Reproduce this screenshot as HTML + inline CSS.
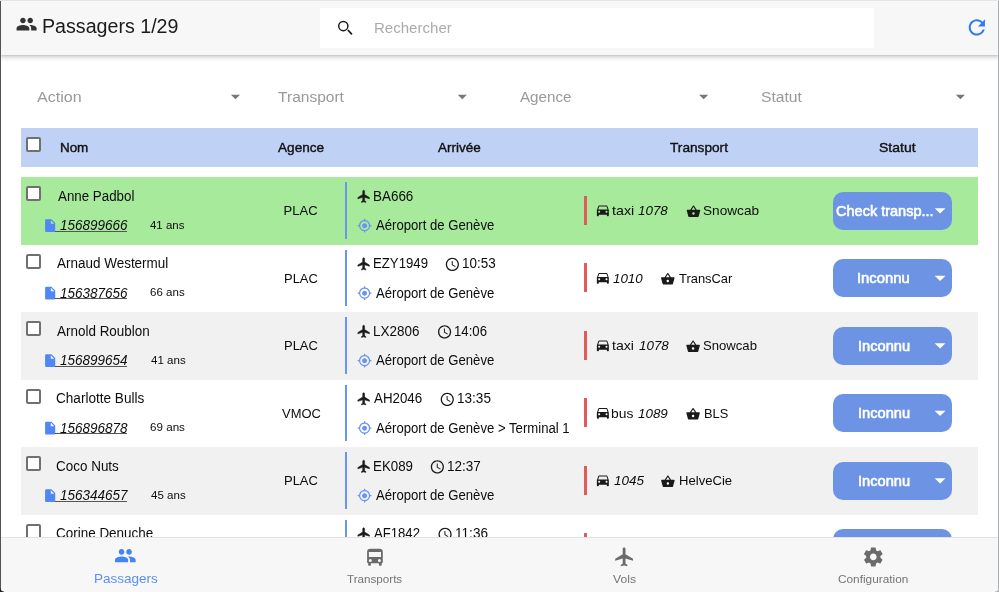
<!DOCTYPE html>
<html><head><meta charset="utf-8"><title>Passagers</title>
<style>
*{box-sizing:border-box}
html,body{margin:0;padding:0;width:999px;height:592px;overflow:hidden;background:#fff;font-family:"Liberation Sans",Arial,sans-serif;color:#0c0c0c}
.t{position:absolute;white-space:nowrap;line-height:1;font-size:13px}
.wrap{position:absolute;left:0;top:0;width:999px;height:592px;will-change:transform}
.ic{position:absolute;display:block;overflow:visible}
.hdr{position:absolute;left:0;top:0;width:999px;height:55px;background:#f7f7f7;box-shadow:0 1px 1px rgba(0,0,0,.06),0 2px 5px rgba(0,0,0,.22);z-index:5}
.search{position:absolute;left:320px;top:8px;width:554px;height:40px;background:#fff;border-radius:2px}
.thead{position:absolute;left:21px;top:128px;width:957px;height:39px;background:#c0d1f6}
.row{position:absolute;left:21px;width:957px;height:67.5px}
.cb{position:absolute;width:15px;height:15px;border:2px solid #707070;border-radius:2px;background:#fff}
.ul{position:absolute;height:1px;background:#555}
.bbar{position:absolute;left:344.8px;width:2.5px;height:56.8px;background:#6a94f2}
.rbar{position:absolute;left:584.2px;width:2.6px;height:29px;background:#e35a5a}
.btn{position:absolute;left:833.1px;width:119.3px;height:38px;background:#6d94e4;border-radius:10px}
.nav{position:absolute;left:0;top:537px;width:999px;height:55px;background:#f7f7f7;box-shadow:inset 0 1px 0 #e2e2e2;z-index:5}
.frameL{position:absolute;left:0;top:0;width:1px;height:592px;background:#505357;z-index:10}
.frameR{position:absolute;left:998px;top:0;width:1px;height:592px;background:#abadb1;z-index:10}
.cbl{position:absolute;left:0;top:588px;width:4px;height:4px;background:radial-gradient(circle at 4px 0,transparent 3px,#1b2430 4px);z-index:11}
.cbr{position:absolute;left:995px;top:588px;width:4px;height:4px;background:radial-gradient(circle at 0 0,transparent 3px,#b3b6ba 4px);z-index:11}
.frameT{position:absolute;left:0;top:0;width:999px;height:1px;background:#e4e4e4;z-index:10}
</style></head><body>
<div class="wrap">
<div class="hdr">
  <svg class="ic" style="left:15px;top:13px;width:23px;height:23px" viewBox="-0.699 -0.151 25.205 25.205"><path fill="#333" d="M16 11c1.66 0 2.99-1.34 2.99-3S17.66 5 16 5c-1.66 0-3 1.34-3 3s1.34 3 3 3zm-8 0c1.66 0 2.99-1.34 2.99-3S9.66 5 8 5C6.34 5 5 6.34 5 8s1.34 3 3 3zm0 2c-2.33 0-7 1.17-7 3.5V19h14v-2.5c0-2.330-4.670-3.5-7-3.5zm8 0c-.29 0-.62.02-.97.05 1.160.84 1.970 1.970 1.970 3.450V19h6v-2.5c0-2.330-4.670-3.5-7-3.5z"/></svg>
  <div class="t" id="title" style="left:41.75px;top:16.99px;font-size:19.5px;color:#1a1a1a;transform:scaleX(1.0068);transform-origin:0 0">Passagers 1/29</div>
  <div class="search">
    <svg class="ic" style="left:13px;top:7px;width:25px;height:25px" viewBox="333 15 25 25"><circle cx="343.3" cy="26.1" r="4.6" fill="none" stroke="#1a1a1a" stroke-width="1.45"/><path d="M348.3 30.5L351.5 33.9" stroke="#1a1a1a" stroke-width="1.7" stroke-linecap="round"/></svg>
    <div class="t" id="srch" style="left:54.06px;top:12.30px;font-size:15px;color:#aaa;transform:scaleX(1.0028);transform-origin:0 0">Rechercher</div>
  </div>
  <svg class="ic" style="left:964px;top:15px;width:26px;height:26px" viewBox="-0.691 -0.247 25.679 25.679"><path fill="#2f7bf5" d="M17.65 6.35C16.2 4.9 14.21 4 12 4c-4.42 0-7.99 3.58-7.99 8s3.57 8 7.99 8c3.73 0 6.84-2.55 7.73-6h-2.08c-.82 2.33-3.04 4-5.65 4-3.31 0-6-2.69-6-6s2.690-6 6-6c1.66 0 3.14.69 4.22 1.78L13 11h7V4l-2.35 2.35z"/></svg>
</div>
<div class="t" id="f_action" style="left:36.86px;top:89.48px;font-size:15.5px;color:#999;transform:scaleX(1.0341);transform-origin:0 0">Action</div>
<div class="t" id="f_transport" style="left:278.11px;top:89.48px;font-size:15.5px;color:#999">Transport</div>
<div class="t" id="f_agence" style="left:520.35px;top:89.48px;font-size:15.5px;color:#999;transform:scaleX(0.9780);transform-origin:0 0">Agence</div>
<div class="t" id="f_statut" style="left:760.76px;top:89.48px;font-size:15.5px;color:#999;transform:scaleX(1.0105);transform-origin:0 0">Statut</div>
<svg class="ic" style="left:224px;top:85px;width:23px;height:23px" viewBox="-0.527 -0.582 25.091 25.091"><path fill="#777" d="M7 10l5 5 5-5z"/></svg>
<svg class="ic" style="left:451px;top:85px;width:23px;height:23px" viewBox="-0.309 -0.582 25.091 25.091"><path fill="#777" d="M7 10l5 5 5-5z"/></svg>
<svg class="ic" style="left:692px;top:85px;width:23px;height:23px" viewBox="-0.745 -0.582 25.091 25.091"><path fill="#777" d="M7 10l5 5 5-5z"/></svg>
<svg class="ic" style="left:949px;top:85px;width:23px;height:23px" viewBox="-0.418 -0.582 25.091 25.091"><path fill="#777" d="M7 10l5 5 5-5z"/></svg>
<div class="thead"></div>
<div class="cb" style="left:26.2px;top:137.4px"></div>
<div class="t" id="h_nom" style="left:59.95px;top:141.01px;font-size:13.45px;-webkit-text-stroke:0.4px #111;color:#111">Nom</div>
<div class="t" id="h_ag" style="left:277.53px;top:141.01px;font-size:13.45px;-webkit-text-stroke:0.4px #111;color:#111;transform:scaleX(1.0136);transform-origin:0 0">Agence</div>
<div class="t" id="h_ar" style="left:438.43px;top:141.01px;font-size:13.45px;-webkit-text-stroke:0.4px #111;color:#111;transform:scaleX(1.0029);transform-origin:0 0">Arrivée</div>
<div class="t" id="h_tr" style="left:669.87px;top:141.01px;font-size:13.45px;-webkit-text-stroke:0.4px #111;color:#111;transform:scaleX(1.0169);transform-origin:0 0">Transport</div>
<div class="t" id="h_st" style="left:879.26px;top:141.01px;font-size:13.45px;-webkit-text-stroke:0.4px #111;color:#111;transform:scaleX(1.0413);transform-origin:0 0">Statut</div>
<div class="row" style="top:177.0px;background:#a7ea9b"></div>
<div class="cb" style="left:26.3px;top:186.0px"></div>
<div class="t" id="r0_name" style="left:57.50px;top:188.95px;font-size:14px;;transform:scaleX(0.9521);transform-origin:0 0">Anne Padbol</div>
<svg class="ic" style="left:42px;top:218px;width:17px;height:17px" viewBox="-0.895 -0.053 26.842 26.842"><path fill="#5087f5" d="M6 2c-1.1 0-1.99.9-1.99 2L4 20c0 1.1.89 2 1.99 2H18c1.1 0 2-.9 2-2V8l-6-6H6zm7 7V3.5L18.5 9H13z"/></svg>
<div class="ul" style="left:55.1px;top:230.90px;width:72.3px"></div>
<div class="t" id="r0_id" style="left:60.09px;top:218.45px;font-size:14px;font-style:italic;transform:scaleX(0.9641);transform-origin:0 0">156899666</div>
<div class="t" id="r0_age" style="left:150.22px;top:219.97px;font-size:11.5px;;transform:scaleX(0.9949);transform-origin:0 0">41 ans</div>
<div class="t" id="r0_ag" style="left:283.60px;top:204.20px;font-size:13px;">PLAC</div>
<div class="bbar" style="top:182.0px"></div>
<svg class="ic" style="left:356px;top:189px;width:16px;height:16px" viewBox="-1.080 -0.094 26.301 26.301"><path fill="#1a1a1a" stroke="#1a1a1a" stroke-width="0.9" stroke-linejoin="round" d="M21 16v-2l-8-5V3.5c0-.83-.67-1.5-1.5-1.5S10 2.67 10 3.5V9l-8 5v2l8-2.5V19l-2 1.5V22l3.5-1 3.5 1v-1.5L13 19v-5.5l8 2.5z"/></svg>
<div class="t" id="r0_fl" style="left:372.57px;top:188.95px;font-size:14px;;transform:scaleX(0.9599);transform-origin:0 0">BA666</div>
<svg class="ic" style="left:357px;top:218px;width:16px;height:16px" viewBox="-0.120 -0.280 25.600 25.600"><path fill="#6a94f2" d="M12 8c-2.21 0-4 1.79-4 4s1.79 4 4 4 4-1.79 4-4-1.79-4-4-4zm8.94 3c-.46-4.17-3.77-7.48-7.94-7.94V1h-2v2.06C6.83 3.52 3.52 6.83 3.06 11H1v2h2.06c.46 4.17 3.77 7.48 7.94 7.94V23h2v-2.06c4.17-.46 7.48-3.77 7.94-7.94H23v-2h-2.06zM12 19c-3.87 0-7-3.13-7-7s3.13-7 7-7 7 3.13 7 7-3.13 7-7 7z"/></svg>
<div class="t" id="r0_loc" style="left:375.63px;top:218.45px;font-size:14px;;transform:scaleX(0.9383);transform-origin:0 0">Aéroport de Genève</div>
<div class="rbar" style="top:195.90px"></div>
<svg class="ic" style="left:594px;top:202px;width:17px;height:17px" viewBox="-1.275 -0.250 25.500 25.500"><path fill="#1a1a1a" d="M18.92 6.01C18.72 5.42 18.16 5 17.5 5h-11c-.66 0-1.21.42-1.42 1.01L3 12v8c0 .55.45 1 1 1h1c.55 0 1-.45 1-1v-1h12v1c0 .55.45 1 1 1h1c.55 0 1-.45 1-1v-8l-2.08-5.99zM6.5 16c-.83 0-1.5-.67-1.5-1.5S5.67 13 6.5 13s1.5.67 1.5 1.5S7.33 16 6.5 16zm11 0c-.83 0-1.5-.67-1.5-1.5s.67-1.5 1.5-1.5 1.5.67 1.5 1.5-.67 1.5-1.5 1.5zM5 11l1.5-4.5h11L19 11H5z"/></svg>
<div class="t" id="r0_tt" style="left:611.66px;top:204.30px;font-size:13px;;transform:scaleX(1.0976);transform-origin:0 0">taxi</div>
<div class="t" id="r0_tn" style="left:638.21px;top:204.30px;font-size:13px;font-style:italic;transform:scaleX(1.0307);transform-origin:0 0">1078</div>
<svg class="ic" style="left:686px;top:204px;width:16px;height:16px" viewBox="-0.135 -0.250 25.946 25.946"><path fill="#1a1a1a" d="M17.21 9l-4.38-6.56c-.19-.28-.51-.42-.83-.42-.32 0-.64.14-.83.43L6.79 9H2c-.55 0-1 .45-1 1 0 .09.01.18.04.27l2.54 9.27c.23.84 1 1.46 1.92 1.46h13c.92 0 1.69-.62 1.93-1.46l2.54-9.27L23 10c0-.55-.45-1-1-1h-4.79zM9 9l3-4.4L15 9H9zm3 8c-1.1 0-2-.9-2-2s.9-2 2-2 2 .9 2 2-.9 2-2 2z"/></svg>
<div class="t" id="r0_co" style="left:703.45px;top:204.30px;font-size:13px;;transform:scaleX(1.0476);transform-origin:0 0">Snowcab</div>
<div class="btn" style="top:191.50px"></div>
<div class="t" id="r0_st" style="left:835.85px;top:202.80px;font-size:15px;-webkit-text-stroke:0.6px #fff;color:#fff;transform:scaleX(0.9677);transform-origin:0 0">Check transp...</div>
<svg class="ic" style="left:927px;top:197px;width:27px;height:27px" viewBox="-0.092 -0.338 24.923 24.923"><path fill="#fff" d="M7 10l5 5 5-5z"/></svg>
<div class="row" style="top:244.5px;background:#ffffff"></div>
<div class="cb" style="left:26.3px;top:253.5px"></div>
<div class="t" id="r1_name" style="left:57.47px;top:256.45px;font-size:14px;;transform:scaleX(0.9622);transform-origin:0 0">Arnaud Westermul</div>
<svg class="ic" style="left:42px;top:285px;width:17px;height:17px" viewBox="-0.895 -0.842 26.842 26.842"><path fill="#5087f5" d="M6 2c-1.1 0-1.99.9-1.99 2L4 20c0 1.1.89 2 1.99 2H18c1.1 0 2-.9 2-2V8l-6-6H6zm7 7V3.5L18.5 9H13z"/></svg>
<div class="ul" style="left:55.1px;top:298.40px;width:72.3px"></div>
<div class="t" id="r1_id" style="left:60.09px;top:285.95px;font-size:14px;font-style:italic;transform:scaleX(0.9631);transform-origin:0 0">156387656</div>
<div class="t" id="r1_age" style="left:150.04px;top:287.47px;font-size:11.5px;;transform:scaleX(1.0034);transform-origin:0 0">66 ans</div>
<div class="t" id="r1_ag" style="left:284.02px;top:271.70px;font-size:13px;;transform:scaleX(0.9969);transform-origin:0 0">PLAC</div>
<div class="bbar" style="top:249.5px"></div>
<svg class="ic" style="left:356px;top:256px;width:16px;height:16px" viewBox="-1.080 -0.916 26.301 26.301"><path fill="#1a1a1a" stroke="#1a1a1a" stroke-width="0.9" stroke-linejoin="round" d="M21 16v-2l-8-5V3.5c0-.83-.67-1.5-1.5-1.5S10 2.67 10 3.5V9l-8 5v2l8-2.5V19l-2 1.5V22l3.5-1 3.5 1v-1.5L13 19v-5.5l8 2.5z"/></svg>
<div class="t" id="r1_fl" style="left:372.76px;top:256.45px;font-size:14px;;transform:scaleX(0.9419);transform-origin:0 0">EZY1949</div>
<svg class="ic" style="left:444px;top:256px;width:17px;height:17px" viewBox="-0.734 -0.734 25.823 25.823"><path fill="#1a1a1a" d="M11.99 2C6.47 2 2 6.48 2 12s4.47 10 9.99 10C17.52 22 22 17.52 22 12S17.52 2 11.99 2zM12 20c-4.42 0-8-3.58-8-8s3.58-8 8-8 8 3.58 8 8-3.580 8-8 8zm.5-13H11v6l5.25 3.15.75-1.23-4.5-2.67z"/></svg>
<div class="t" id="r1_tm" style="left:462.39px;top:256.45px;font-size:14px;;transform:scaleX(0.9601);transform-origin:0 0">10:53</div>
<svg class="ic" style="left:357px;top:285px;width:16px;height:16px" viewBox="-0.120 -1.080 25.600 25.600"><path fill="#6a94f2" d="M12 8c-2.21 0-4 1.79-4 4s1.79 4 4 4 4-1.79 4-4-1.79-4-4-4zm8.94 3c-.46-4.17-3.77-7.48-7.94-7.94V1h-2v2.06C6.83 3.52 3.52 6.83 3.06 11H1v2h2.06c.46 4.17 3.77 7.48 7.94 7.94V23h2v-2.06c4.17-.46 7.48-3.77 7.94-7.94H23v-2h-2.06zM12 19c-3.87 0-7-3.13-7-7s3.13-7 7-7 7 3.13 7 7-3.13 7-7 7z"/></svg>
<div class="t" id="r1_loc" style="left:375.63px;top:285.95px;font-size:14px;;transform:scaleX(0.9383);transform-origin:0 0">Aéroport de Genève</div>
<div class="rbar" style="top:263.40px"></div>
<svg class="ic" style="left:594px;top:269px;width:17px;height:17px" viewBox="-1.275 -1.000 25.500 25.500"><path fill="#1a1a1a" d="M18.92 6.01C18.72 5.42 18.16 5 17.5 5h-11c-.66 0-1.21.42-1.42 1.01L3 12v8c0 .55.45 1 1 1h1c.55 0 1-.45 1-1v-1h12v1c0 .55.45 1 1 1h1c.55 0 1-.45 1-1v-8l-2.08-5.99zM6.5 16c-.83 0-1.5-.67-1.5-1.5S5.67 13 6.5 13s1.5.67 1.5 1.5S7.33 16 6.5 16zm11 0c-.83 0-1.5-.67-1.5-1.5s.67-1.5 1.5-1.5 1.5.67 1.5 1.5-.67 1.5-1.5 1.5zM5 11l1.5-4.5h11L19 11H5z"/></svg>
<div class="t" id="r1_tn" style="left:613.46px;top:271.80px;font-size:13px;font-style:italic;transform:scaleX(1.0263);transform-origin:0 0">1010</div>
<svg class="ic" style="left:660px;top:271px;width:16px;height:16px" viewBox="-0.622 -1.061 25.946 25.946"><path fill="#1a1a1a" d="M17.21 9l-4.38-6.56c-.19-.28-.51-.42-.83-.42-.32 0-.64.14-.83.43L6.79 9H2c-.55 0-1 .45-1 1 0 .09.01.18.04.27l2.54 9.27c.23.84 1 1.46 1.92 1.46h13c.92 0 1.69-.62 1.93-1.46l2.54-9.27L23 10c0-.55-.45-1-1-1h-4.79zM9 9l3-4.4L15 9H9zm3 8c-1.1 0-2-.9-2-2s.9-2 2-2 2 .9 2 2-.9 2-2 2z"/></svg>
<div class="t" id="r1_co" style="left:679.42px;top:271.80px;font-size:13px;;transform:scaleX(0.9932);transform-origin:0 0">TransCar</div>
<div class="btn" style="top:259.00px"></div>
<div class="t" id="r1_st" style="left:857.34px;top:270.10px;font-size:15px;-webkit-text-stroke:0.6px #fff;color:#fff;transform:scaleX(0.9875);transform-origin:0 0">Inconnu</div>
<svg class="ic" style="left:927px;top:264px;width:27px;height:27px" viewBox="-0.092 -0.800 24.923 24.923"><path fill="#fff" d="M7 10l5 5 5-5z"/></svg>
<div class="row" style="top:312.0px;background:#f1f1f1"></div>
<div class="cb" style="left:26.3px;top:321.0px"></div>
<div class="t" id="r2_name" style="left:57.47px;top:323.95px;font-size:14px;;transform:scaleX(0.9613);transform-origin:0 0">Arnold Roublon</div>
<svg class="ic" style="left:42px;top:353px;width:17px;height:17px" viewBox="-0.895 -0.053 26.842 26.842"><path fill="#5087f5" d="M6 2c-1.1 0-1.99.9-1.99 2L4 20c0 1.1.89 2 1.99 2H18c1.1 0 2-.9 2-2V8l-6-6H6zm7 7V3.5L18.5 9H13z"/></svg>
<div class="ul" style="left:55.1px;top:365.90px;width:72.3px"></div>
<div class="t" id="r2_id" style="left:60.09px;top:353.45px;font-size:14px;font-style:italic;transform:scaleX(0.9631);transform-origin:0 0">156899654</div>
<div class="t" id="r2_age" style="left:150.52px;top:354.97px;font-size:11.5px;;transform:scaleX(1.0034);transform-origin:0 0">41 ans</div>
<div class="t" id="r2_ag" style="left:284.02px;top:339.20px;font-size:13px;;transform:scaleX(0.9969);transform-origin:0 0">PLAC</div>
<div class="bbar" style="top:317.0px"></div>
<svg class="ic" style="left:356px;top:324px;width:16px;height:16px" viewBox="-1.080 -0.094 26.301 26.301"><path fill="#1a1a1a" stroke="#1a1a1a" stroke-width="0.9" stroke-linejoin="round" d="M21 16v-2l-8-5V3.5c0-.83-.67-1.5-1.5-1.5S10 2.67 10 3.5V9l-8 5v2l8-2.5V19l-2 1.5V22l3.5-1 3.5 1v-1.5L13 19v-5.5l8 2.5z"/></svg>
<div class="t" id="r2_fl" style="left:372.57px;top:323.95px;font-size:14px;;transform:scaleX(0.9607);transform-origin:0 0">LX2806</div>
<svg class="ic" style="left:436px;top:323px;width:17px;height:17px" viewBox="-1.038 -1.494 25.823 25.823"><path fill="#1a1a1a" d="M11.99 2C6.47 2 2 6.48 2 12s4.47 10 9.99 10C17.52 22 22 17.52 22 12S17.52 2 11.99 2zM12 20c-4.42 0-8-3.58-8-8s3.58-8 8-8 8 3.58 8 8-3.580 8-8 8zm.5-13H11v6l5.25 3.15.75-1.23-4.5-2.67z"/></svg>
<div class="t" id="r2_tm" style="left:454.49px;top:323.95px;font-size:14px;;transform:scaleX(0.9410);transform-origin:0 0">14:06</div>
<svg class="ic" style="left:357px;top:353px;width:16px;height:16px" viewBox="-0.120 -0.280 25.600 25.600"><path fill="#6a94f2" d="M12 8c-2.21 0-4 1.79-4 4s1.79 4 4 4 4-1.79 4-4-1.79-4-4-4zm8.94 3c-.46-4.17-3.77-7.48-7.94-7.94V1h-2v2.06C6.83 3.52 3.52 6.83 3.06 11H1v2h2.06c.46 4.17 3.77 7.48 7.94 7.94V23h2v-2.06c4.17-.46 7.48-3.77 7.94-7.94H23v-2h-2.06zM12 19c-3.87 0-7-3.13-7-7s3.13-7 7-7 7 3.13 7 7-3.13 7-7 7z"/></svg>
<div class="t" id="r2_loc" style="left:375.63px;top:353.45px;font-size:14px;;transform:scaleX(0.9383);transform-origin:0 0">Aéroport de Genève</div>
<div class="rbar" style="top:330.90px"></div>
<svg class="ic" style="left:594px;top:337px;width:17px;height:17px" viewBox="-1.275 -0.250 25.500 25.500"><path fill="#1a1a1a" d="M18.92 6.01C18.72 5.42 18.16 5 17.5 5h-11c-.66 0-1.21.42-1.42 1.01L3 12v8c0 .55.45 1 1 1h1c.55 0 1-.45 1-1v-1h12v1c0 .55.45 1 1 1h1c.55 0 1-.45 1-1v-8l-2.08-5.99zM6.5 16c-.83 0-1.5-.67-1.5-1.5S5.67 13 6.5 13s1.5.67 1.5 1.5S7.33 16 6.5 16zm11 0c-.83 0-1.5-.67-1.5-1.5s.67-1.5 1.5-1.5 1.5.67 1.5 1.5-.67 1.5-1.5 1.5zM5 11l1.5-4.5h11L19 11H5z"/></svg>
<div class="t" id="r2_tt" style="left:612.45px;top:339.30px;font-size:13px;;transform:scaleX(1.0827);transform-origin:0 0">taxi</div>
<div class="t" id="r2_tn" style="left:638.82px;top:339.30px;font-size:13px;font-style:italic;transform:scaleX(1.0306);transform-origin:0 0">1078</div>
<svg class="ic" style="left:685px;top:339px;width:16px;height:16px" viewBox="-1.108 -0.250 25.946 25.946"><path fill="#1a1a1a" d="M17.21 9l-4.38-6.56c-.19-.28-.51-.42-.83-.42-.32 0-.64.14-.83.43L6.79 9H2c-.55 0-1 .45-1 1 0 .09.01.18.04.27l2.54 9.27c.23.84 1 1.46 1.92 1.46h13c.92 0 1.69-.62 1.93-1.46l2.54-9.27L23 10c0-.55-.45-1-1-1h-4.79zM9 9l3-4.4L15 9H9zm3 8c-1.1 0-2-.9-2-2s.9-2 2-2 2 .9 2 2-.9 2-2 2z"/></svg>
<div class="t" id="r2_co" style="left:703.43px;top:339.30px;font-size:13px;;transform:scaleX(1.0089);transform-origin:0 0">Snowcab</div>
<div class="btn" style="top:326.50px"></div>
<div class="t" id="r2_st" style="left:858.00px;top:337.60px;font-size:15px;-webkit-text-stroke:0.6px #fff;color:#fff;transform:scaleX(0.9776);transform-origin:0 0">Inconnu</div>
<svg class="ic" style="left:927px;top:332px;width:27px;height:27px" viewBox="-0.092 -0.338 24.923 24.923"><path fill="#fff" d="M7 10l5 5 5-5z"/></svg>
<div class="row" style="top:379.5px;background:#ffffff"></div>
<div class="cb" style="left:26.3px;top:388.5px"></div>
<div class="t" id="r3_name" style="left:56.39px;top:391.45px;font-size:14px;;transform:scaleX(0.9697);transform-origin:0 0">Charlotte Bulls</div>
<svg class="ic" style="left:42px;top:420px;width:17px;height:17px" viewBox="-0.895 -0.842 26.842 26.842"><path fill="#5087f5" d="M6 2c-1.1 0-1.99.9-1.99 2L4 20c0 1.1.89 2 1.99 2H18c1.1 0 2-.9 2-2V8l-6-6H6zm7 7V3.5L18.5 9H13z"/></svg>
<div class="ul" style="left:55.1px;top:433.40px;width:72.3px"></div>
<div class="t" id="r3_id" style="left:60.37px;top:420.95px;font-size:14px;font-style:italic;transform:scaleX(0.9621);transform-origin:0 0">156896878</div>
<div class="t" id="r3_age" style="left:149.70px;top:422.47px;font-size:11.5px;;transform:scaleX(1.0119);transform-origin:0 0">69 ans</div>
<div class="t" id="r3_ag" style="left:281.55px;top:406.70px;font-size:13px;;transform:scaleX(0.9950);transform-origin:0 0">VMOC</div>
<div class="bbar" style="top:384.5px"></div>
<svg class="ic" style="left:356px;top:391px;width:16px;height:16px" viewBox="-1.080 -0.916 26.301 26.301"><path fill="#1a1a1a" stroke="#1a1a1a" stroke-width="0.9" stroke-linejoin="round" d="M21 16v-2l-8-5V3.5c0-.83-.67-1.5-1.5-1.5S10 2.67 10 3.5V9l-8 5v2l8-2.5V19l-2 1.5V22l3.5-1 3.5 1v-1.5L13 19v-5.5l8 2.5z"/></svg>
<div class="t" id="r3_fl" style="left:373.77px;top:391.45px;font-size:14px;;transform:scaleX(0.9529);transform-origin:0 0">AH2046</div>
<svg class="ic" style="left:439px;top:391px;width:17px;height:17px" viewBox="-0.582 -0.734 25.823 25.823"><path fill="#1a1a1a" d="M11.99 2C6.47 2 2 6.48 2 12s4.47 10 9.99 10C17.52 22 22 17.52 22 12S17.52 2 11.99 2zM12 20c-4.42 0-8-3.58-8-8s3.58-8 8-8 8 3.58 8 8-3.580 8-8 8zm.5-13H11v6l5.25 3.15.75-1.23-4.5-2.67z"/></svg>
<div class="t" id="r3_tm" style="left:456.95px;top:391.45px;font-size:14px;;transform:scaleX(0.9693);transform-origin:0 0">13:35</div>
<svg class="ic" style="left:357px;top:420px;width:16px;height:16px" viewBox="-0.120 -1.080 25.600 25.600"><path fill="#6a94f2" d="M12 8c-2.21 0-4 1.79-4 4s1.79 4 4 4 4-1.79 4-4-1.79-4-4-4zm8.94 3c-.46-4.17-3.77-7.48-7.94-7.94V1h-2v2.06C6.83 3.52 3.52 6.83 3.06 11H1v2h2.06c.46 4.17 3.77 7.48 7.94 7.94V23h2v-2.06c4.17-.46 7.48-3.77 7.94-7.94H23v-2h-2.06zM12 19c-3.87 0-7-3.13-7-7s3.13-7 7-7 7 3.13 7 7-3.13 7-7 7z"/></svg>
<div class="t" id="r3_loc" style="left:375.65px;top:420.95px;font-size:14px;;transform:scaleX(0.9383);transform-origin:0 0">Aéroport de Genève &gt; Terminal 1</div>
<div class="rbar" style="top:398.40px"></div>
<svg class="ic" style="left:594px;top:404px;width:17px;height:17px" viewBox="-1.275 -1.000 25.500 25.500"><path fill="#1a1a1a" d="M18.92 6.01C18.72 5.42 18.16 5 17.5 5h-11c-.66 0-1.21.42-1.42 1.01L3 12v8c0 .55.45 1 1 1h1c.55 0 1-.45 1-1v-1h12v1c0 .55.45 1 1 1h1c.55 0 1-.45 1-1v-8l-2.08-5.99zM6.5 16c-.83 0-1.5-.67-1.5-1.5S5.67 13 6.5 13s1.5.67 1.5 1.5S7.33 16 6.5 16zm11 0c-.83 0-1.5-.67-1.5-1.5s.67-1.5 1.5-1.5 1.5.67 1.5 1.5-.67 1.5-1.5 1.5zM5 11l1.5-4.5h11L19 11H5z"/></svg>
<div class="t" id="r3_tt" style="left:610.97px;top:406.80px;font-size:13px;;transform:scaleX(1.0677);transform-origin:0 0">bus</div>
<div class="t" id="r3_tn" style="left:638.32px;top:406.80px;font-size:13px;font-style:italic;transform:scaleX(1.0306);transform-origin:0 0">1089</div>
<svg class="ic" style="left:685px;top:406px;width:16px;height:16px" viewBox="-1.108 -1.061 25.946 25.946"><path fill="#1a1a1a" d="M17.21 9l-4.38-6.56c-.19-.28-.51-.42-.83-.42-.32 0-.64.14-.83.43L6.79 9H2c-.55 0-1 .45-1 1 0 .09.01.18.04.27l2.54 9.27c.23.84 1 1.46 1.92 1.46h13c.92 0 1.69-.62 1.93-1.46l2.54-9.27L23 10c0-.55-.45-1-1-1h-4.79zM9 9l3-4.4L15 9H9zm3 8c-1.1 0-2-.9-2-2s.9-2 2-2 2 .9 2 2-.9 2-2 2z"/></svg>
<div class="t" id="r3_co" style="left:704.09px;top:406.80px;font-size:13px;;transform:scaleX(0.9884);transform-origin:0 0">BLS</div>
<div class="btn" style="top:394.00px"></div>
<div class="t" id="r3_st" style="left:858.00px;top:405.10px;font-size:15px;-webkit-text-stroke:0.6px #fff;color:#fff;transform:scaleX(0.9776);transform-origin:0 0">Inconnu</div>
<svg class="ic" style="left:927px;top:399px;width:27px;height:27px" viewBox="-0.092 -0.800 24.923 24.923"><path fill="#fff" d="M7 10l5 5 5-5z"/></svg>
<div class="row" style="top:447.0px;background:#f1f1f1"></div>
<div class="cb" style="left:26.3px;top:456.0px"></div>
<div class="t" id="r4_name" style="left:56.08px;top:458.95px;font-size:14px;;transform:scaleX(0.9613);transform-origin:0 0">Coco Nuts</div>
<svg class="ic" style="left:42px;top:488px;width:17px;height:17px" viewBox="-0.895 -0.053 26.842 26.842"><path fill="#5087f5" d="M6 2c-1.1 0-1.99.9-1.99 2L4 20c0 1.1.89 2 1.99 2H18c1.1 0 2-.9 2-2V8l-6-6H6zm7 7V3.5L18.5 9H13z"/></svg>
<div class="ul" style="left:55.1px;top:500.90px;width:72.3px"></div>
<div class="t" id="r4_id" style="left:60.09px;top:488.45px;font-size:14px;font-style:italic;transform:scaleX(0.9631);transform-origin:0 0">156344657</div>
<div class="t" id="r4_age" style="left:150.52px;top:489.97px;font-size:11.5px;;transform:scaleX(1.0034);transform-origin:0 0">45 ans</div>
<div class="t" id="r4_ag" style="left:284.02px;top:474.20px;font-size:13px;;transform:scaleX(0.9969);transform-origin:0 0">PLAC</div>
<div class="bbar" style="top:452.0px"></div>
<svg class="ic" style="left:356px;top:459px;width:16px;height:16px" viewBox="-1.080 -0.094 26.301 26.301"><path fill="#1a1a1a" stroke="#1a1a1a" stroke-width="0.9" stroke-linejoin="round" d="M21 16v-2l-8-5V3.5c0-.83-.67-1.5-1.5-1.5S10 2.67 10 3.5V9l-8 5v2l8-2.5V19l-2 1.5V22l3.5-1 3.5 1v-1.5L13 19v-5.5l8 2.5z"/></svg>
<div class="t" id="r4_fl" style="left:372.73px;top:458.95px;font-size:14px;;transform:scaleX(0.9517);transform-origin:0 0">EK089</div>
<svg class="ic" style="left:429px;top:458px;width:17px;height:17px" viewBox="-0.734 -1.494 25.823 25.823"><path fill="#1a1a1a" d="M11.99 2C6.47 2 2 6.48 2 12s4.47 10 9.99 10C17.52 22 22 17.52 22 12S17.52 2 11.99 2zM12 20c-4.42 0-8-3.58-8-8s3.58-8 8-8 8 3.58 8 8-3.580 8-8 8zm.5-13H11v6l5.25 3.15.75-1.23-4.5-2.67z"/></svg>
<div class="t" id="r4_tm" style="left:446.56px;top:458.95px;font-size:14px;;transform:scaleX(0.9633);transform-origin:0 0">12:37</div>
<svg class="ic" style="left:357px;top:488px;width:16px;height:16px" viewBox="-0.120 -0.280 25.600 25.600"><path fill="#6a94f2" d="M12 8c-2.21 0-4 1.79-4 4s1.79 4 4 4 4-1.79 4-4-1.79-4-4-4zm8.94 3c-.46-4.17-3.77-7.48-7.94-7.94V1h-2v2.06C6.83 3.52 3.52 6.83 3.06 11H1v2h2.06c.46 4.17 3.77 7.48 7.94 7.94V23h2v-2.06c4.17-.46 7.48-3.77 7.94-7.94H23v-2h-2.06zM12 19c-3.87 0-7-3.13-7-7s3.13-7 7-7 7 3.13 7 7-3.13 7-7 7z"/></svg>
<div class="t" id="r4_loc" style="left:375.63px;top:488.45px;font-size:14px;;transform:scaleX(0.9383);transform-origin:0 0">Aéroport de Genève</div>
<div class="rbar" style="top:465.90px"></div>
<svg class="ic" style="left:594px;top:472px;width:17px;height:17px" viewBox="-1.275 -0.250 25.500 25.500"><path fill="#1a1a1a" d="M18.92 6.01C18.72 5.42 18.16 5 17.5 5h-11c-.66 0-1.21.42-1.42 1.01L3 12v8c0 .55.45 1 1 1h1c.55 0 1-.45 1-1v-1h12v1c0 .55.45 1 1 1h1c.55 0 1-.45 1-1v-8l-2.08-5.99zM6.5 16c-.83 0-1.5-.67-1.5-1.5S5.67 13 6.5 13s1.5.67 1.5 1.5S7.33 16 6.5 16zm11 0c-.83 0-1.5-.67-1.5-1.5s.67-1.5 1.5-1.5 1.5.67 1.5 1.5-.67 1.5-1.5 1.5zM5 11l1.5-4.5h11L19 11H5z"/></svg>
<div class="t" id="r4_tn" style="left:613.83px;top:474.30px;font-size:13px;font-style:italic;transform:scaleX(1.0349);transform-origin:0 0">1045</div>
<svg class="ic" style="left:660px;top:474px;width:16px;height:16px" viewBox="-0.784 -0.250 25.946 25.946"><path fill="#1a1a1a" d="M17.21 9l-4.38-6.56c-.19-.28-.51-.42-.83-.42-.32 0-.64.14-.83.43L6.79 9H2c-.55 0-1 .45-1 1 0 .09.01.18.04.27l2.54 9.27c.23.84 1 1.46 1.92 1.46h13c.92 0 1.69-.62 1.93-1.46l2.54-9.27L23 10c0-.55-.45-1-1-1h-4.79zM9 9l3-4.4L15 9H9zm3 8c-1.1 0-2-.9-2-2s.9-2 2-2 2 .9 2 2-.9 2-2 2z"/></svg>
<div class="t" id="r4_co" style="left:678.82px;top:474.30px;font-size:13px;;transform:scaleX(1.0064);transform-origin:0 0">HelveCie</div>
<div class="btn" style="top:461.50px"></div>
<div class="t" id="r4_st" style="left:858.00px;top:472.60px;font-size:15px;-webkit-text-stroke:0.6px #fff;color:#fff;transform:scaleX(0.9776);transform-origin:0 0">Inconnu</div>
<svg class="ic" style="left:927px;top:467px;width:27px;height:27px" viewBox="-0.092 -0.338 24.923 24.923"><path fill="#fff" d="M7 10l5 5 5-5z"/></svg>
<div class="row" style="top:514.5px;background:#ffffff"></div>
<div class="cb" style="left:26.3px;top:523.5px"></div>
<div class="t" id="r5_name" style="left:56.08px;top:526.45px;font-size:14px;;transform:scaleX(0.9613);transform-origin:0 0">Corine Denuche</div>
<svg class="ic" style="left:42px;top:555px;width:17px;height:17px" viewBox="-0.895 -0.842 26.842 26.842"><path fill="#5087f5" d="M6 2c-1.1 0-1.99.9-1.99 2L4 20c0 1.1.89 2 1.99 2H18c1.1 0 2-.9 2-2V8l-6-6H6zm7 7V3.5L18.5 9H13z"/></svg>
<div class="ul" style="left:55.1px;top:568.40px;width:72.3px"></div>
<div class="t" id="r5_id" style="left:60.09px;top:555.95px;font-size:14px;font-style:italic;transform:scaleX(0.9631);transform-origin:0 0">156342311</div>
<div class="t" id="r5_age" style="left:149.71px;top:557.47px;font-size:11.5px;;transform:scaleX(1.0034);transform-origin:0 0">52 ans</div>
<div class="t" id="r5_ag" style="left:284.02px;top:541.70px;font-size:13px;;transform:scaleX(0.9969);transform-origin:0 0">PLAC</div>
<div class="bbar" style="top:519.5px"></div>
<svg class="ic" style="left:356px;top:526px;width:16px;height:16px" viewBox="-1.080 -0.916 26.301 26.301"><path fill="#1a1a1a" stroke="#1a1a1a" stroke-width="0.9" stroke-linejoin="round" d="M21 16v-2l-8-5V3.5c0-.83-.67-1.5-1.5-1.5S10 2.67 10 3.5V9l-8 5v2l8-2.5V19l-2 1.5V22l3.5-1 3.5 1v-1.5L13 19v-5.5l8 2.5z"/></svg>
<div class="t" id="r5_fl" style="left:373.78px;top:526.45px;font-size:14px;;transform:scaleX(0.9368);transform-origin:0 0">AF1842</div>
<svg class="ic" style="left:437px;top:526px;width:17px;height:17px" viewBox="-0.278 -0.734 25.823 25.823"><path fill="#1a1a1a" d="M11.99 2C6.47 2 2 6.48 2 12s4.47 10 9.99 10C17.52 22 22 17.52 22 12S17.52 2 11.99 2zM12 20c-4.42 0-8-3.58-8-8s3.58-8 8-8 8 3.58 8 8-3.580 8-8 8zm.5-13H11v6l5.25 3.15.75-1.23-4.5-2.67z"/></svg>
<div class="t" id="r5_tm" style="left:454.62px;top:526.45px;font-size:14px;;transform:scaleX(0.9717);transform-origin:0 0">11:36</div>
<svg class="ic" style="left:357px;top:555px;width:16px;height:16px" viewBox="-0.120 -1.080 25.600 25.600"><path fill="#6a94f2" d="M12 8c-2.21 0-4 1.79-4 4s1.79 4 4 4 4-1.79 4-4-1.79-4-4-4zm8.94 3c-.46-4.17-3.77-7.48-7.94-7.94V1h-2v2.06C6.83 3.52 3.52 6.83 3.06 11H1v2h2.06c.46 4.17 3.77 7.48 7.94 7.94V23h2v-2.06c4.17-.46 7.48-3.77 7.94-7.94H23v-2h-2.06zM12 19c-3.87 0-7-3.13-7-7s3.13-7 7-7 7 3.13 7 7-3.13 7-7 7z"/></svg>
<div class="t" id="r5_loc" style="left:375.63px;top:555.95px;font-size:14px;;transform:scaleX(0.9383);transform-origin:0 0">Aéroport de Genève</div>
<div class="rbar" style="top:533.40px"></div>
<svg class="ic" style="left:594px;top:539px;width:17px;height:17px" viewBox="-1.275 -1.000 25.500 25.500"><path fill="#1a1a1a" d="M18.92 6.01C18.72 5.42 18.16 5 17.5 5h-11c-.66 0-1.21.42-1.42 1.01L3 12v8c0 .55.45 1 1 1h1c.55 0 1-.45 1-1v-1h12v1c0 .55.45 1 1 1h1c.55 0 1-.45 1-1v-8l-2.08-5.99zM6.5 16c-.83 0-1.5-.67-1.5-1.5S5.67 13 6.5 13s1.5.67 1.5 1.5S7.33 16 6.5 16zm11 0c-.83 0-1.5-.67-1.5-1.5s.67-1.5 1.5-1.5 1.5.67 1.5 1.5-.67 1.5-1.5 1.5zM5 11l1.5-4.5h11L19 11H5z"/></svg>
<div class="t" id="r5_tt" style="left:612.45px;top:541.80px;font-size:13px;;transform:scaleX(1.0827);transform-origin:0 0">taxi</div>
<div class="t" id="r5_tn" style="left:638.82px;top:541.80px;font-size:13px;font-style:italic;transform:scaleX(1.0306);transform-origin:0 0">1052</div>
<svg class="ic" style="left:685px;top:541px;width:16px;height:16px" viewBox="-1.432 -1.061 25.946 25.946"><path fill="#1a1a1a" d="M17.21 9l-4.38-6.56c-.19-.28-.51-.42-.83-.42-.32 0-.64.14-.83.43L6.79 9H2c-.55 0-1 .45-1 1 0 .09.01.18.04.27l2.54 9.27c.23.84 1 1.46 1.92 1.46h13c.92 0 1.69-.62 1.93-1.46l2.54-9.27L23 10c0-.55-.45-1-1-1h-4.79zM9 9l3-4.4L15 9H9zm3 8c-1.1 0-2-.9-2-2s.9-2 2-2 2 .9 2 2-.9 2-2 2z"/></svg>
<div class="t" id="r5_co" style="left:703.43px;top:541.80px;font-size:13px;;transform:scaleX(1.0089);transform-origin:0 0">Snowcab</div>
<div class="btn" style="top:529.00px"></div>
<div class="t" id="r5_st" style="left:858.00px;top:540.10px;font-size:15px;-webkit-text-stroke:0.6px #fff;color:#fff;transform:scaleX(0.9776);transform-origin:0 0">Inconnu</div>
<svg class="ic" style="left:927px;top:534px;width:27px;height:27px" viewBox="-0.092 -0.800 24.923 24.923"><path fill="#fff" d="M7 10l5 5 5-5z"/></svg>
<div class="nav">
  <svg class="ic" style="left:114px;top:7px;width:24px;height:24px" viewBox="-0.067 -0.440 25.600 25.600"><path fill="#4285f4" d="M16 11c1.66 0 2.99-1.34 2.99-3S17.66 5 16 5c-1.66 0-3 1.34-3 3s1.34 3 3 3zm-8 0c1.66 0 2.99-1.34 2.99-3S9.66 5 8 5C6.34 5 5 6.34 5 8s1.34 3 3 3zm0 2c-2.33 0-7 1.17-7 3.5V19h14v-2.5c0-2.330-4.670-3.5-7-3.5zm8 0c-.29 0-.62.02-.97.05 1.160.84 1.970 1.970 1.970 3.450V19h6v-2.5c0-2.330-4.670-3.5-7-3.5z"/></svg>
  <div class="t" id="n_pass" style="left:93.90px;top:35.20px;font-size:13px;color:#5b8ff0;transform:scaleX(1.0379);transform-origin:0 0">Passagers</div>
  <svg class="ic" style="left:360px;top:6px;width:30px;height:27px" viewBox="360 543 30 27"><path fill="#6b6b6b" fill-rule="evenodd" d="M367.1 551.8Q367.1 548.7 370.4 548.7H379.5Q382.8 548.7 382.8 551.8V562Q382.8 563.3 381.5 563.3H368.4Q367.1 563.3 367.1 562ZM368.9 551.9H381V556.9H368.9ZM370.3 559.1A1.5 1.5 0 1 0 370.3 562.1A1.5 1.5 0 1 0 370.3 559.1ZM379.4 559.1A1.5 1.5 0 1 0 379.4 562.1A1.5 1.5 0 1 0 379.4 559.1Z"/><path fill="#6b6b6b" d="M368.2 563H370.9V565Q370.9 565.7 370.2 565.7H368.9Q368.2 565.7 368.2 565Z M378.9 563H381.7V565Q381.7 565.7 381 565.7H379.6Q378.9 565.7 378.9 565Z"/></svg>
  <div class="t" id="n_tr" style="left:347.40px;top:37.27px;font-size:11.5px;color:#757575;transform:scaleX(1.0119);transform-origin:0 0">Transports</div>
  <svg class="ic" style="left:613px;top:8px;width:24px;height:24px" viewBox="-0.347 -0.773 25.600 25.600"><path fill="#6b6b6b" d="M21 16v-2l-8-5V3.5c0-.83-.67-1.5-1.5-1.5S10 2.67 10 3.5V9l-8 5v2l8-2.5V19l-2 1.5V22l3.5-1 3.5 1v-1.5L13 19v-5.5l8 2.5z"/></svg>
  <div class="t" id="n_vols" style="left:613.02px;top:37.27px;font-size:11.5px;color:#757575;transform:scaleX(1.0557);transform-origin:0 0">Vols</div>
  <svg class="ic" style="left:861px;top:8px;width:24px;height:24px" viewBox="-0.953 -0.526 25.263 25.263"><path fill="#6b6b6b" d="M19.43 12.98c.04-.32.07-.64.07-.98s-.03-.66-.07-.98l2.11-1.65c.19-.15.24-.42.12-.64l-2-3.46c-.12-.22-.39-.3-.61-.22l-2.49 1c-.52-.4-1.08-.73-1.69-.98l-.38-2.65C14.46 2.18 14.25 2 14 2h-4c-.25 0-.46.18-.49.42l-.38 2.65c-.61.25-1.17.59-1.69.98l-2.49-1c-.23-.09-.49 0-.61.22l-2 3.46c-.13.22-.07.49.12.64l2.11 1.65c-.04.32-.07.65-.07.98s.03.66.07.98l-2.11 1.65c-.19.15-.24.42-.12.64l2 3.46c.12.22.39.3.61.22l2.49-1c.52.4 1.08.73 1.69.98l.38 2.65c.03.24.24.42.49.42h4c.25 0 .46-.18.49-.42l.38-2.65c.61-.25 1.17-.59 1.69-.98l2.49 1c.23.09.49 0 .61-.22l2-3.46c.12-.22.07-.49-.12-.64l-2.11-1.65zM12 15.5c-1.93 0-3.5-1.57-3.5-3.5s1.57-3.5 3.5-3.5 3.5 1.57 3.5 3.5-1.57 3.5-3.5 3.5z"/></svg>
  <div class="t" id="n_conf" style="left:838.03px;top:37.27px;font-size:11.5px;color:#757575;transform:scaleX(1.0280);transform-origin:0 0">Configuration</div>
</div>
</div>
<div class="frameL"></div><div class="frameR"></div><div class="frameT"></div>
<div class="cbl"></div><div class="cbr"></div>
</body></html>
